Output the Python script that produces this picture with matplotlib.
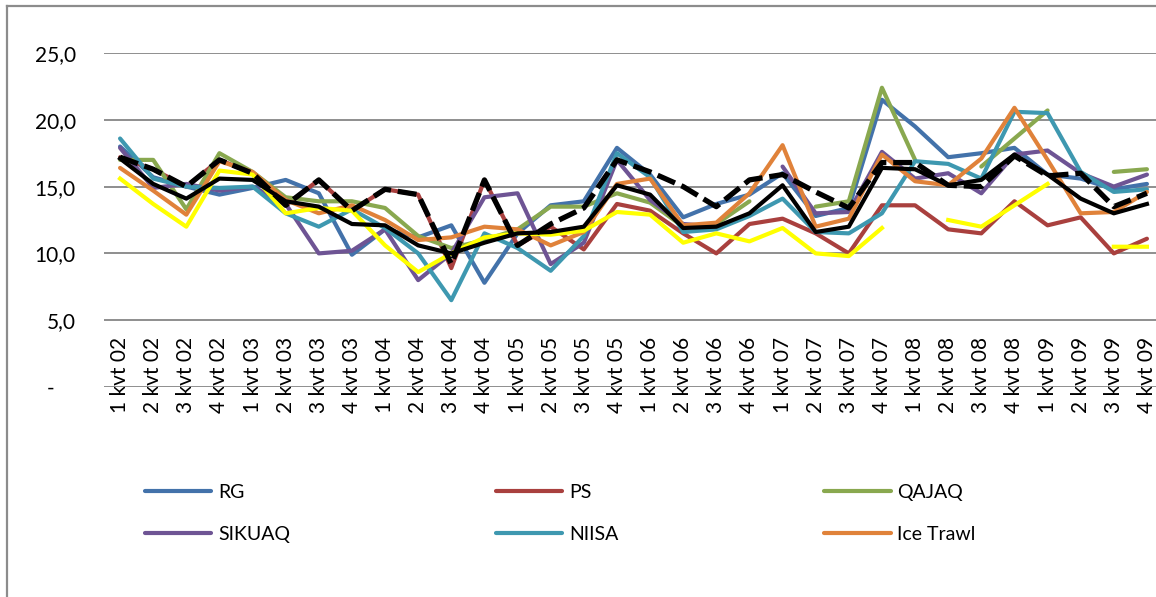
import numpy as np
import matplotlib
matplotlib.use('Agg')
import matplotlib.pyplot as plt
from matplotlib.lines import Line2D

nan = np.nan

quarters = [f'{q} kvt {y:02d}' for y in range(2, 10) for q in range(1, 5)]

rg = [18.0, 15.7, 15.0, 14.4, 14.9, 15.5, 14.5, 9.9, 11.8, 11.2, 12.1, 7.8, 11.5, 13.6, 13.9, 17.9,
      15.9, 12.7, 13.7, 14.4, 16.0, 12.8, 13.4, 21.5, 19.5, 17.2, 17.5, 17.9, 15.9, 15.6, 14.8, 15.2]
ps = [17.2, 16.3, 15.0, 17.0, 16.0, 13.6, 15.5, 13.2, 14.8, 14.4, 8.9, 15.5, 10.6, 12.0, 10.3, 13.7,
      13.2, 11.5, 10.0, 12.2, 12.6, 11.5, 10.0, 13.6, 13.6, 11.8, 11.5, 13.9, 12.1, 12.7, 10.0, 11.1]
qajaq = [17.0, 17.0, 13.3, 17.5, 16.1, 14.2, 13.9, 13.9, 13.4, 11.3, 10.4, 11.0, 11.8, 13.5, 13.5, 14.5,
         13.8, 12.0, 12.2, 13.9, nan, 13.5, 13.9, 22.4, 17.0, nan, 16.5, 18.6, 20.7, nan, 16.1, 16.3]
sikuaq = [17.9, 14.9, 15.2, 14.7, 15.0, 13.7, 10.0, 10.2, 11.8, 8.0, 10.0, 14.2, 14.5, 9.2, 10.8, 17.0,
          14.0, 12.2, 12.0, nan, 16.5, 13.0, 13.1, 17.6, 15.6, 16.0, 14.5, 17.4, 17.7, 16.0, 15.0, 15.9]
niisa = [18.6, 15.6, 15.0, 14.9, 15.0, 13.0, 12.0, 13.3, 11.9, 10.0, 6.5, 11.5, 10.4, 8.7, 11.3, 17.5,
         15.7, 11.6, 11.8, 12.8, 14.1, 11.6, 11.5, 13.0, 16.9, 16.7, 15.6, 20.6, 20.5, 16.1, 14.6, 14.8]
ice_trawl = [16.4, 14.7, 12.9, 16.9, 16.1, 14.0, 13.0, 13.6, 12.5, 11.0, 11.2, 12.0, 11.8, 10.6, 11.6, 15.2,
             15.6, 12.1, 12.3, 14.5, 18.1, 12.0, 12.6, 17.4, 15.4, 15.1, 17.1, 20.9, 17.0, 13.0, 13.1, 14.6]
yellow = [15.6, 13.7, 12.0, 16.2, 15.9, 13.0, 13.4, 13.2, 10.6, 8.6, 10.0, 11.2, 11.5, 11.4, 11.7, 13.1,
          12.9, 10.8, 11.5, 10.9, 11.9, 10.0, 9.8, 11.9, nan, 12.5, 12.0, 13.6, 15.2, nan, 10.5, 10.5]
black = [17.1, 15.2, 14.1, 15.6, 15.5, 13.9, 13.5, 12.2, 12.1, 10.6, 10.0, 10.8, 11.5, 11.6, 12.0, 15.1,
         14.4, 11.9, 12.0, 13.0, 15.1, 11.6, 12.0, 16.4, 16.3, 15.1, 15.5, 17.4, 15.9, 14.1, 13.0, 13.7]
black_dash = [17.2, 16.3, 15.0, 17.0, 16.0, 13.6, 15.5, 13.2, 14.8, 14.4, 9.2, 15.5, 10.6, 12.2, 13.4, 17.0,
              16.1, 15.0, 13.5, 15.5, 15.9, 14.6, 13.4, 16.8, 16.8, 15.1, 15.0, 17.3, 15.8, 16.0, 13.5, 14.5]

series = [
    ('RG', rg, '#4372AA'),
    ('PS', ps, '#A9403E'),
    ('QAJAQ', qajaq, '#89A84F'),
    ('SIKUAQ', sikuaq, '#6E5494'),
    ('NIISA', niisa, '#3E98B0'),
    ('Ice Trawl', ice_trawl, '#E0823A'),
]

fig = plt.figure(figsize=(11.56, 5.97), dpi=100)
ax = fig.add_axes([103.5 / 1156, 210 / 597, 1060 / 1156, 334 / 597])

x = np.arange(len(quarters))
handles = []
for name, vals, col in series:
    h, = ax.plot(x, vals, color=col, lw=3.0, label=name, solid_capstyle='round')
    handles.append(h)
ax.plot(x, yellow, color='#FFFF00', lw=3.0)
ax.plot(x, black, color='black', lw=3.0)
ax.plot(x, black_dash, color='black', lw=3.8, dashes=(3.6, 1.3))

ax.set_xlim(-0.5, len(quarters) - 0.5)
ax.set_ylim(0, 25)
ax.set_yticks([0, 5, 10, 15, 20, 25])
ax.set_yticklabels(['-    ', '5,0', '10,0', '15,0', '20,0', '25,0'], fontfamily='Lato', fontsize=15)
ax.set_xticks(x)
ax.set_xticklabels(quarters, rotation=90, fontfamily='Lato', fontsize=15)
ax.tick_params(axis='y', length=0, pad=20)
ax.tick_params(axis='x', length=0, pad=-36)
ax.grid(axis='y', color='#868686', lw=1.3)
ax.set_axisbelow(True)
for s in ax.spines.values():
    s.set_visible(False)

# legend fills row by row: RG PS QAJAQ / SIKUAQ NIISA Ice Trawl
order = [0, 3, 1, 4, 2, 5]
fig.legend([handles[i] for i in order], [series[i][0] for i in order],
           loc='upper left', bbox_to_anchor=(145 / 1156, 1 - 484 / 597), ncol=3, frameon=False,
           borderpad=0, borderaxespad=0, handlelength=3.4, handletextpad=0.35, columnspacing=10.6,
           labelspacing=1.3, prop={'family': 'Lato', 'size': 14})

# outer frame, cut at the right and bottom
fig.add_artist(Line2D([7 / 1156, 7 / 1156], [0, 1 - 6 / 597], color='#8c8c8c', lw=1.6))
fig.add_artist(Line2D([7 / 1156, 1], [1 - 6 / 597, 1 - 6 / 597], color='#8c8c8c', lw=1.6))

fig.savefig('out.png', dpi=100)
